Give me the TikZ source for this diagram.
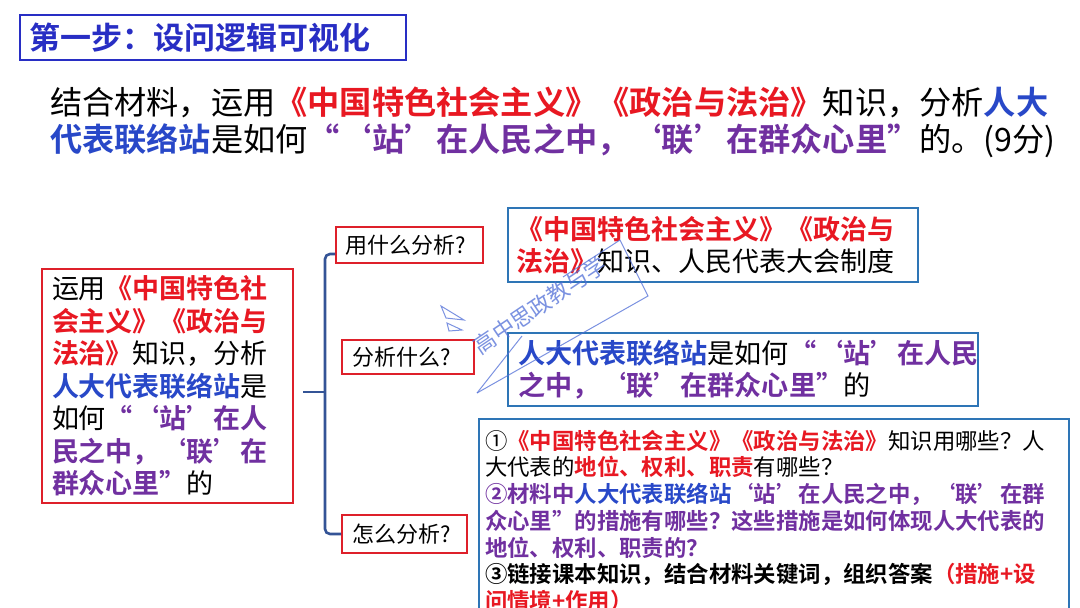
\documentclass[tikz,border=0pt]{standalone}
\usepackage{fontspec}
\setmainfont{Noto Sans CJK SC}[BoldFont={Noto Sans CJK SC Bold}]
\definecolor{ctitle}{RGB}{40,46,196}
\definecolor{cred}{RGB}{232,24,34}
\definecolor{cblue}{RGB}{40,72,200}
\definecolor{cpurp}{RGB}{112,48,160}
\definecolor{credbox}{RGB}{222,32,42}
\definecolor{cbluebox}{RGB}{46,117,182}
\definecolor{cbracket}{RGB}{52,84,150}
\definecolor{cwm}{RGB}{80,110,215}
\newcommand{\txtred}[1]{{\bfseries\color{cred}#1}}
\newcommand{\txtblue}[1]{{\bfseries\color{cblue}#1}}
\newcommand{\txtpurp}[1]{{\bfseries\color{cpurp}#1}}
\newcommand{\txtbold}[1]{{\bfseries #1}}
\begin{document}
\begin{tikzpicture}[x=1pt,y=-1pt,
  redbox/.style={draw=credbox, line width=2pt, align=left},
  bluebox/.style={draw=cbluebox, line width=2pt, align=left},
  bracket/.style={draw=cbracket, line width=2.6pt},
  wmline/.style={draw=cwm, line width=1pt, opacity=0.75}]
\path[use as bounding box, fill=white] (0,0) rectangle (1080,608);

% title
\node[draw=ctitle, line width=2pt, minimum width=386pt, minimum height=45pt,
  inner xsep=10pt, text width=366pt, align=left, text=ctitle,
  font=\fontsize{31}{36}\selectfont\bfseries] (title) at (213,37.5) {第一步：设问逻辑可视化};

% question
\node[anchor=north west, inner sep=0pt, align=left,
  font=\fontsize{32.2}{37}\selectfont] (question) at (50,87)
  {结合材料，运用\txtred{《中国特色社会主义》《政治与法治》}知识，分析\txtblue{人大}\\
   \txtblue{代表联络站}是如何\txtpurp{“‘站’在人民之中，‘联’在群众心里”}的。(9分)};

% left box
\node[redbox, minimum width=251pt, minimum height=234pt, inner xsep=10pt, text width=231pt,
  font=\fontsize{27}{32.5}\selectfont] (left) at (167.5,386)
  {运用\txtred{《中国特色社}\\
   \txtred{会主义》《政治与}\\
   \txtred{法治》}知识，分析\\
   \txtblue{人大代表联络站}是\\
   如何\txtpurp{“‘站’在人}\\
   \txtpurp{民之中，‘联’在}\\
   \txtpurp{群众心里”}的};

% question boxes
\node[redbox, minimum width=147pt, minimum height=36pt, inner xsep=9pt, text width=129pt,
  font=\fontsize{22}{26}\selectfont] (q1) at (409.5,245) {用什么分析?};
\node[redbox, minimum width=132pt, minimum height=34pt, inner xsep=10pt, text width=112pt,
  font=\fontsize{22}{26}\selectfont] (q2) at (408,357) {分析什么?};
\node[redbox, minimum width=125pt, minimum height=38pt, inner xsep=10pt, text width=105pt,
  font=\fontsize{22}{26}\selectfont] (q3) at (404.5,534) {怎么分析?};

% bracket
\coordinate (bj) at (325,392);
\coordinate (h1) at ([yshift=10pt]q1.south west);
\draw[bracket] (left.east |- bj) ++(9,0) -- (bj);
\draw[bracket, rounded corners=5pt] (h1) -| (bj) |- (q3.west);

% answer boxes
\node[bluebox, minimum width=410pt, minimum height=74pt, inner xsep=8pt, text width=394pt,
  font=\fontsize{27}{31.5}\selectfont] (a1) at (713,245)
  {\txtred{《中国特色社会主义》《政治与}\\
   \txtred{法治》}知识、人民代表大会制度};
\node[bluebox, minimum width=470pt, minimum height=73pt, inner xsep=10pt, text width=450pt,
  font=\fontsize{27.1}{31.7}\selectfont] (a2) at (743,369.5)
  {\txtblue{人大代表联络站}是如何\txtpurp{“‘站’在人民}\\
   \txtpurp{之中，‘联’在群众心里”}的};
\node[bluebox, anchor=north west, inner xsep=6pt, inner ysep=11pt, text width=578pt,
  font=\fontsize{22.4}{26.7}\selectfont] (a3) at (478,418)
  {①\txtred{《中国特色社会主义》《政治与法治》}知识用哪些？人\\
   大代表的\txtred{地位、权利、职责}有哪些？\\
   \txtpurp{②材料中}\txtblue{人大代表联络站}\txtpurp{‘站’在人民之中，‘联’在群}\\
   \txtpurp{众心里”的措施有哪些？这些措施是如何体现人大代表的}\\
   \txtpurp{地位、权利、职责的？}\\
   \txtbold{③链接课本知识，结合材料关键词，组织答案}\txtred{（措施+设}\\
   \txtred{问情境+作用）}};

% watermark
\node[rotate=34, inner sep=0pt, text=cwm, opacity=0.75,
  font=\fontsize{22}{22}\selectfont] (wm) at (540,305) {高中思政教与学};
\draw[wmline] (477,393) -- (648,296) -- (620,240) -- (563,277);
\draw[wmline] (477,393) -- (522,336);
\draw[wmline] (441,306) -- (464,320) -- (446,318) -- cycle;
\draw[wmline] (447,323) -- (462,330) -- (449,331) -- cycle;
\end{tikzpicture}
\end{document}
